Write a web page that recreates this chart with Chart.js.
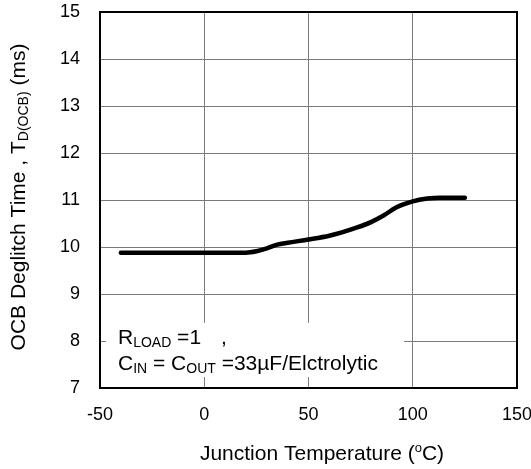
<!DOCTYPE html>
<html>
<head>
<meta charset="utf-8">
<script src="https://cdn.jsdelivr.net/npm/chart.js@4.4.0/dist/chart.umd.min.js"></script>
<style>
  html, body { margin: 0; padding: 0; background: #fff; }
  #wrap { width: 531px; height: 469px; }
</style>
</head>
<body>
<div id="wrap"><canvas id="chart" width="531" height="469"></canvas></div>
<script>
// OCB deglitch time vs junction temperature
const temps = [-40, -20, 0, 20, 25, 30, 35, 40, 50, 60, 66, 73, 80, 86, 92, 100, 107, 113, 125];
const deglitch = [9.88, 9.88, 9.88, 9.88, 9.91, 9.97, 10.05, 10.09, 10.16, 10.24, 10.31, 10.41, 10.53, 10.67, 10.84, 10.97, 11.03, 11.05, 11.05];
const xTicks = [-50, 0, 50, 100, 150];
const yTicks = [7, 8, 9, 10, 11, 12, 13, 14, 15];

const FONT = '"Liberation Sans", Arial, sans-serif';

// draw a run of [text, kind] pieces; kind: '' normal, 'sub', 'sup'
function drawRich(ctx, parts, x, y, size) {
    let cx = x;
    parts.forEach(([txt, kind]) => {
        let s = size, dy = 0;
        if (kind === 'sub') { s = Math.round(size * 0.66); dy = 3; }
        if (kind === 'sup') { s = Math.round(size * 0.6); dy = -8; }
        ctx.font = s + 'px ' + FONT;
        ctx.fillText(txt, cx, y + dy);
        cx += ctx.measureText(txt).width;
    });
    return cx - x;
}
function richWidth(ctx, parts, size) {
    let w = 0;
    parts.forEach(([txt, kind]) => {
        let s = size;
        if (kind === 'sub') s = Math.round(size * 0.66);
        if (kind === 'sup') s = Math.round(size * 0.6);
        ctx.font = s + 'px ' + FONT;
        w += ctx.measureText(txt).width;
    });
    return w;
}

const decorPlugin = {
    id: 'decor',
    beforeDatasetsDraw(chart) {
        // blank panel behind the condition note
        const ctx = chart.ctx;
        ctx.save();
        ctx.fillStyle = '#fff';
        ctx.fillRect(106, 323, 298, 54);
        ctx.restore();
    },
    afterDatasetsDraw(chart) {
        const { ctx, chartArea: a } = chart;
        ctx.save();
        ctx.strokeStyle = '#000';
        ctx.lineWidth = 2;
        ctx.strokeRect(a.left, a.top, a.right - a.left, a.bottom - a.top);
        ctx.restore();
    },
    afterDraw(chart) {
        const ctx = chart.ctx;
        ctx.save();
        ctx.fillStyle = '#000';
        ctx.textBaseline = 'alphabetic';
        ctx.textAlign = 'left';

        // x axis title
        const xt = [['Junction Temperature (', ''], ['o', 'sup'], ['C)', '']];
        const xw = richWidth(ctx, xt, 21);
        drawRich(ctx, xt, 322 - xw / 2, 460, 21);

        // y axis title, rotated
        const yt = [['OCB Deglitch Time , T', ''], ['D(OCB)', 'sub'], [' (ms)', '']];
        const yw = richWidth(ctx, yt, 21);
        ctx.save();
        ctx.translate(25, 197);
        ctx.rotate(-Math.PI / 2);
        drawRich(ctx, yt, -yw / 2, 0, 21);
        ctx.restore();

        // test condition note
        drawRich(ctx, [['R', ''], ['LOAD', 'sub'], [' =1', '']], 118, 344, 21);
        ctx.font = '21px ' + FONT;
        ctx.fillText(',', 221, 344);
        drawRich(ctx, [['C', ''], ['IN', 'sub'], [' = C', ''], ['OUT', 'sub'], [' =33\u00b5F/Elctrolytic', '']], 118, 370, 21);
        ctx.restore();
    }
};

function noPad(s) {
    s.paddingTop = 0; s.paddingBottom = 0; s.paddingLeft = 0; s.paddingRight = 0;
}

new Chart(document.getElementById('chart'), {
    type: 'line',
    data: {
        datasets: [{
            data: temps.map((t, i) => ({ x: t, y: deglitch[i] })),
            borderColor: '#000',
            borderWidth: 4.5,
            borderCapStyle: 'round',
            borderJoinStyle: 'round',
            cubicInterpolationMode: 'monotone',
            pointRadius: 0,
            fill: false
        }]
    },
    options: {
        responsive: false,
        animation: false,
        devicePixelRatio: 1,
        layout: { padding: { top: 12, right: 14, left: 0, bottom: 0 } },
        plugins: { legend: { display: false }, tooltip: { enabled: false } },
        scales: {
            x: {
                type: 'linear',
                min: xTicks[0],
                max: xTicks[xTicks.length - 1],
                afterBuildTicks: s => { s.ticks = xTicks.map(v => ({ value: v })); },
                afterFit: s => { s.height = 81; noPad(s); },
                grid: { color: '#7a7a7a', lineWidth: 1, drawTicks: false },
                border: { display: false },
                ticks: { color: '#000', padding: 16, maxRotation: 0, font: { family: FONT, size: 18 } }
            },
            y: {
                min: yTicks[0],
                max: yTicks[yTicks.length - 1],
                afterBuildTicks: s => { s.ticks = yTicks.map(v => ({ value: v })); },
                afterFit: s => { s.width = 100; noPad(s); },
                grid: { color: '#7a7a7a', lineWidth: 1, drawTicks: false },
                border: { display: false },
                ticks: { color: '#000', padding: 20, font: { family: FONT, size: 18 } }
            }
        }
    },
    plugins: [decorPlugin]
});
</script>
</body>
</html>
